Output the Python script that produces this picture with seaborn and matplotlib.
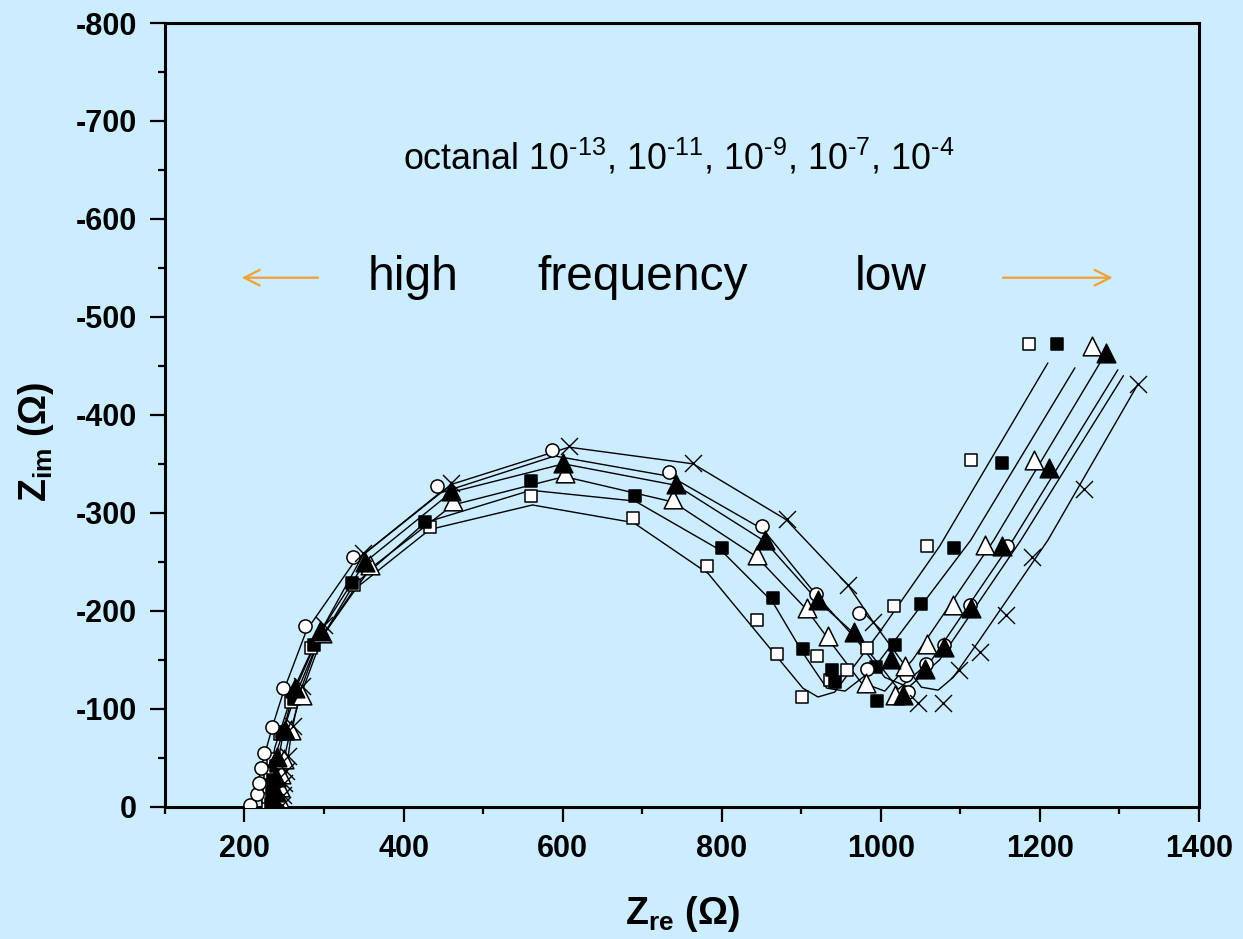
import matplotlib
matplotlib.use('Agg')
import matplotlib.pyplot as plt
from matplotlib.ticker import MultipleLocator
import seaborn as sns

# ---------------- data (Z_re, Z_im in Ohm) ----------------
# markers
sq_open_x = [229, 229.5, 231, 232, 236, 245, 258, 284, 338, 433, 560, 688, 782, 844, 869, 901, 920, 936, 958, 983, 1016, 1058, 1113, 1186]
sq_open_y = [-2, -10, -20, -34, -49, -74, -107, -162, -226, -286, -317, -295, -246, -191, -156, -112, -154, -129, -140, -162, -205, -266, -354, -472]

sq_fill_x = [233, 234, 236, 239, 247, 262, 287, 335, 427, 560, 691, 800, 864, 902, 939, 942, 995, 994, 1018, 1050, 1092, 1152, 1221]
sq_fill_y = [-3, -14, -27, -42, -76, -110, -165, -228, -291, -332, -317, -264, -213, -161, -140, -127, -108, -143, -165, -207, -264, -351, -472]

tri_open_x = [243, 244, 245, 246.5, 250, 259, 272, 298, 358, 462, 603, 739, 844, 907, 934, 981, 1018, 1031, 1058, 1091, 1131, 1192, 1265]
tri_open_y = [-1, -9, -20, -33, -49, -78, -114, -177, -247, -312, -341, -314, -257, -203, -174, -126, -114, -144, -166, -206, -267, -354, -470]

tri_fill_x = [238, 239, 240, 241, 251, 263, 295, 351, 460, 601, 743, 854, 921, 966, 1013, 1028, 1055, 1080, 1113, 1152, 1212, 1283]
tri_fill_y = [-3, -15, -30, -51, -78, -121, -179, -250, -322, -351, -329, -272, -211, -178, -151, -114, -141, -163, -203, -266, -346, -463]

circ_x = [207, 216, 218, 221, 224, 234, 249, 276, 337, 442, 587, 734, 851, 919, 973, 982, 1032, 1034, 1057, 1080, 1112, 1158]
circ_y = [-2, -13, -24, -39, -55, -81, -121, -184, -255, -327, -364, -342, -287, -217, -198, -141, -134, -117, -146, -165, -206, -266]

cross_x = [247, 248, 250, 252, 255, 261, 272, 300, 349, 460, 608, 764, 882, 959, 990, 1047, 1078, 1098, 1125, 1157, 1190, 1255, 1323]
cross_y = [-2, -12, -24, -36, -52, -82, -123, -185, -259, -330, -368, -351, -294, -226, -189, -106, -106, -140, -158, -196, -255, -324, -431]

# fitted curves
fit_sq_open_x = [229, 232, 238, 256, 284, 337, 433, 562, 689, 783, 902, 921, 942, 1000, 1074, 1210]
fit_sq_open_y = [0, -30, -60, -105, -157, -221, -283, -308, -290, -238, -121, -112, -117, -180, -266, -453]

fit_sq_fill_x = [233, 236, 242, 260, 288, 336, 427, 560, 691, 800, 864, 902, 932, 955, 990, 1113, 1244]
fit_sq_fill_y = [0, -30, -60, -105, -160, -225, -290, -323, -312, -261, -209, -157, -121, -118, -140, -272, -448]

fit_tri_open_x = [243, 246, 250, 258, 270, 298, 358, 462, 602, 739, 844, 907, 934, 975, 1005, 1040, 1142, 1277]
fit_tri_open_y = [0, -25, -50, -78, -112, -174, -243, -308, -337, -311, -255, -201, -171, -127, -118, -150, -272, -455]

fit_tri_fill_x = [238, 240, 243, 250, 262, 295, 352, 460, 601, 743, 854, 921, 966, 1000, 1022, 1064, 1166, 1298]
fit_tri_fill_y = [0, -25, -50, -80, -120, -178, -250, -321, -350, -328, -271, -210, -177, -143, -120, -150, -272, -446]

fit_circ_x = [212, 216, 221, 227, 236, 250, 278, 338, 445, 590, 736, 852, 920, 970, 1005, 1035, 1074, 1176, 1305]
fit_circ_y = [0, -20, -40, -58, -84, -120, -180, -250, -320, -358, -337, -283, -215, -170, -132, -122, -150, -272, -440]

fit_cross_x = [248, 251, 254, 258, 264, 272, 300, 349, 460, 608, 764, 881, 959, 990, 1025, 1051, 1072, 1091, 1124, 1210, 1323]
fit_cross_y = [0, -25, -45, -70, -95, -122, -185, -257, -329, -367, -350, -293, -226, -189, -150, -122, -119, -132, -170, -272, -431]

x_ticks = [200, 400, 600, 800, 1000, 1200, 1400]
y_ticks = [0, -100, -200, -300, -400, -500, -600, -700, -800]
y_tick_labels = ['0', '-100', '-200', '-300', '-400', '-500', '-600', '-700', '-800']

HY = '\u2010'
title_text = ('octanal 10$^{' + HY + '13}$, 10$^{' + HY + '11}$, 10$^{' + HY + '9}$, '
              '10$^{' + HY + '7}$, 10$^{' + HY + '4}$')
freq_words = ['high', 'frequency', 'low']

# ---------------- style ----------------
BG = '#CCECFF'
ORANGE = '#F2A035'
sns.set_style('ticks')
plt.rcParams.update({
    'font.family': ['Liberation Sans', 'DejaVu Sans'],
    'mathtext.fontset': 'custom',
    'mathtext.rm': 'Liberation Sans',
    'mathtext.it': 'Liberation Sans:italic',
    'mathtext.bf': 'Liberation Sans:bold',
    'axes.unicode_minus': False,
})

fig = plt.figure(figsize=(12.43, 9.39), dpi=100, facecolor=BG)
ax = fig.add_axes([0.1327, 0.1409, 0.8319, 0.8346])
ax.set_facecolor(BG)

fits = [(fit_sq_open_x, fit_sq_open_y), (fit_sq_fill_x, fit_sq_fill_y),
        (fit_tri_open_x, fit_tri_open_y), (fit_tri_fill_x, fit_tri_fill_y),
        (fit_circ_x, fit_circ_y), (fit_cross_x, fit_cross_y)]
for fx, fy in fits:
    sns.lineplot(x=fx, y=fy, sort=False, estimator=None, color='black',
                 linewidth=1.0, ax=ax, zorder=2)

marks = [
    (sq_open_x, sq_open_y, 's', 'white', 80),
    (sq_fill_x, sq_fill_y, 's', 'black', 80),
    (circ_x, circ_y, 'o', 'white', 90),
    (tri_open_x, tri_open_y, '^', 'white', 180),
    (tri_fill_x, tri_fill_y, '^', 'black', 180),
]
for mx, my, mk, fc, s in marks:
    sns.scatterplot(x=mx, y=my, marker=mk, s=s, color='black', facecolor=fc,
                    edgecolor='black', linewidth=1.1, ax=ax, zorder=3, legend=False)
sns.scatterplot(x=cross_x, y=cross_y, marker='x', s=150, color='black',
                linewidth=1.0, ax=ax, zorder=3, legend=False)

ax.set_xlim(100, 1400)
ax.set_ylim(0, -800)
ax.set_xticks(x_ticks)
ax.set_xticklabels([str(v) for v in x_ticks])
ax.set_yticks(y_ticks)
ax.set_yticklabels(y_tick_labels)
ax.xaxis.set_minor_locator(MultipleLocator(100))
ax.yaxis.set_minor_locator(MultipleLocator(50))
ax.tick_params(which='major', length=11, width=1.6, direction='out', labelsize=22, pad=9,
               color='black', labelcolor='black', top=False, right=False)
ax.tick_params(which='minor', length=5, width=1.6, direction='out', color='black',
               top=False, right=False)
for lab in ax.get_xticklabels() + ax.get_yticklabels():
    lab.set_fontweight('bold')
for sp in ax.spines.values():
    sp.set_linewidth(2.2)
    sp.set_color('black')
    sp.set_visible(True)

ax.set_xlabel(r'$\mathbf{Z}_{\mathbf{re}}$ (Ω)', fontsize=27, fontweight='bold', color='black')
ax.set_ylabel(r'$\mathbf{Z}_{\mathbf{im}}$ (Ω)', fontsize=27, fontweight='bold', color='black')
ax.xaxis.set_label_coords(0.5, -0.112)
ax.yaxis.set_label_coords(-0.105, 0.466)

ax.text(746, -663, title_text, ha='center', va='center', fontsize=25.8, color='black')
for word, xc in zip(freq_words, [412, 701, 1013]):
    ax.text(xc, -540, word, ha='center', va='center', fontsize=34.5, color='black')

ax.annotate('', xy=(193, -540), xytext=(296, -540),
            arrowprops=dict(arrowstyle='->', color=ORANGE, lw=1.6, mutation_scale=28))
ax.annotate('', xy=(1295, -540), xytext=(1150, -540),
            arrowprops=dict(arrowstyle='->', color=ORANGE, lw=1.6, mutation_scale=28))

fig.savefig('out.png', dpi=100, facecolor=BG)
